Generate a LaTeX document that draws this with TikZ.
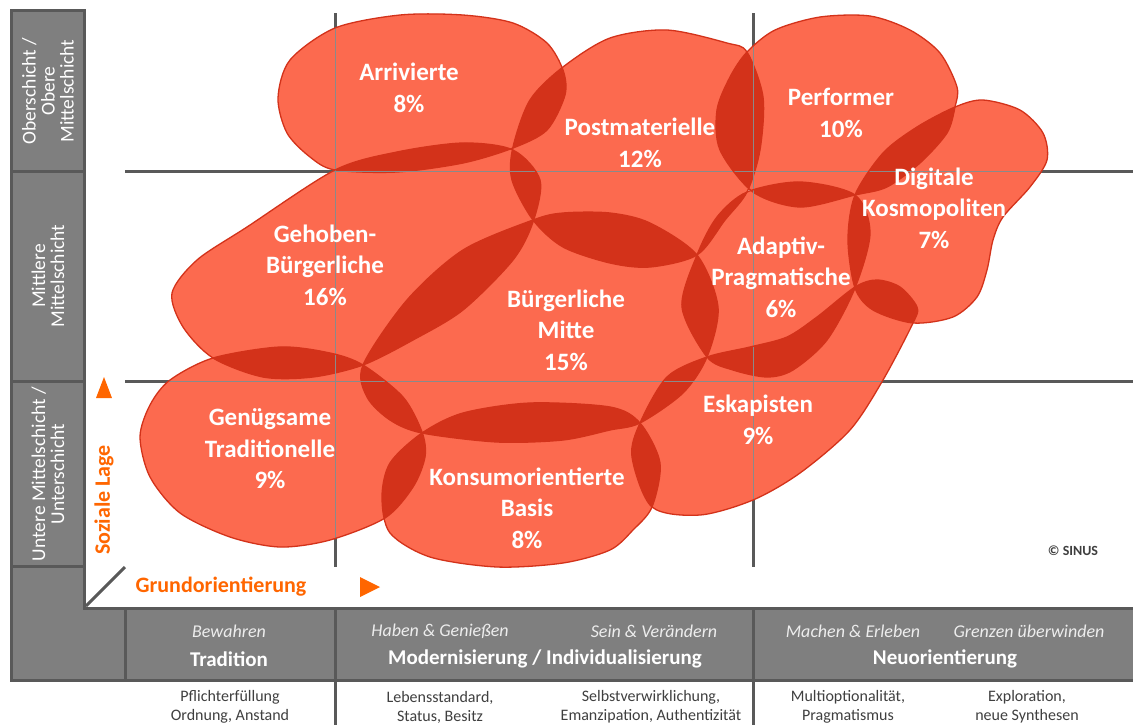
\documentclass[tikz,border=0pt]{standalone}
\usepackage{fontspec}
\setmainfont{Carlito}
\usepackage{tikz}

\definecolor{milieuRed}{HTML}{FC6A4F}
\definecolor{lensRed}{HTML}{D3321A}
\definecolor{cellGray}{HTML}{7F7F7F}
\definecolor{lineGray}{HTML}{595959}
\definecolor{thinGray}{HTML}{8A8A8A}
\definecolor{axisOrange}{HTML}{FF6600}
\definecolor{noteGray}{HTML}{3F3F3F}

\tikzset{
  cell/.style={fill=cellGray, draw=lineGray, line width=3pt},
  gridline/.style={draw=lineGray, line width=3pt},
  thingrid/.style={draw=thinGray, line width=1pt},
  rim/.style={draw=lensRed, line width=1.3pt},
  milieu/.style={text=white, align=center, font=\fontsize{25}{31.5}\selectfont\bfseries},
  layer/.style={text=white, align=center, rotate=90, font=\fontsize{19.5}{19}\selectfont},
  value/.style={text=white!93!black, font=\fontsize{18}{20}\selectfont\itshape},
  orient/.style={text=white, font=\fontsize{21}{24}\selectfont\bfseries},
  note/.style={text=noteGray, align=center, font=\fontsize{16}{19}\selectfont},
  axis/.style={text=axisOrange, font=\fontsize{22}{24}\selectfont\bfseries},
}

\begin{document}
\begin{tikzpicture}[x=1pt,y=-1pt]
\useasboundingbox (0,0) rectangle (1133,724);
\fill[white] (0,0) rectangle (1133,724);

% milieu outlines
\def\pArr{plot[smooth cycle] coordinates {(278,98) (290,60) (335,28) (400,15) (463,15) (513,23) (547,43) (563,70) (565,95) (547,130) (513,148) (463,163) (397,172) (335,170) (310,157) (287,133)}}
\def\pPost{plot[smooth cycle] coordinates {(513,147) (530,100) (563,67) (610,38) (667,30) (727,43) (747,52) (763,97) (760,150) (747,192) (725,220) (697,255) (650,267) (610,263) (563,247) (533,220) (512,180)}}
\def\pPerf{plot[smooth cycle] coordinates {(730,77) (747,52) (775,30) (820,17) (870,16) (910,30) (940,53) (957,87) (955,107) (947,133) (920,163) (887,187) (855,195) (800,207) (753,192) (720,150) (717,110)}}
\def\pDig{plot[smooth cycle] coordinates {(955,107) (983,100) (1020,110) (1043,133) (1047,160) (1030,187) (1003,217) (993,240) (987,270) (977,297) (953,317) (913,323) (873,310) (855,288) (848,240) (855,195) (883,153) (917,127)}}
\def\pGeh{plot[smooth cycle] coordinates {(172,293) (183,327) (213,358) (263,377) (313,377) (363,365) (413,340) (463,310) (513,260) (533,222) (540,180) (513,150) (463,143) (397,152) (335,170) (247,227) (197,260)}}
\def\pBM{plot[smooth cycle] coordinates {(363,365) (407,300) (463,250) (533,220) (563,213) (610,213) (650,223) (697,255) (718,307) (707,357) (683,393) (640,423) (610,430) (563,440) (497,442) (422,433) (390,420) (367,397)}}
\def\pAdapt{plot[smooth cycle] coordinates {(747,192) (800,182) (855,195) (870,233) (855,288) (827,340) (793,370) (767,377) (733,370) (707,357) (682,307) (697,255) (717,217)}}
\def\pGen{plot[smooth cycle] coordinates {(140,437) (150,405) (170,380) (213,358) (280,347) (330,353) (363,365) (403,397) (422,432) (425,457) (413,487) (385,518) (330,540) (280,547) (230,537) (180,513) (150,477)}}
\def\pKons{plot[smooth cycle] coordinates {(422,433) (463,413) (530,403) (610,407) (640,423) (660,463) (652,507) (633,530) (610,550) (563,563) (497,567) (430,557) (390,533) (382,497) (390,463)}}
\def\pEsk{plot[smooth cycle] coordinates {(640,423) (667,377) (707,357) (750,347) (787,337) (817,317) (855,287) (877,280) (900,287) (917,307) (913,323) (883,380) (850,430) (800,473) (753,500) (700,515) (652,507) (632,457)}}

% grid under the milieus
\draw[gridline] (125,171) -- (1133,171);
\draw[gridline] (125,381) -- (1133,381);
\draw[gridline] (335,13) -- (335,567);
\draw[gridline] (753,13) -- (753,567);

\foreach \b in {Arr,Post,Perf,Dig,Geh,BM,Adapt,Gen,Kons,Esk}{
  \begin{scope}[fill=milieuRed]
    \expandafter\fill\csname p\b\endcsname;
  \end{scope}
}
\foreach \a/\b in {Arr/Post,Arr/Geh,Geh/Post,Geh/BM,Geh/Gen,Post/BM,Post/Perf,Post/Adapt,Perf/Adapt,Perf/Dig,Dig/Adapt,Dig/Esk,Adapt/BM,Adapt/Esk,BM/Esk,BM/Kons,BM/Gen,Gen/Kons,Kons/Esk}{
  \begin{scope}[fill=lensRed]
    \expandafter\clip\csname p\a\endcsname;
    \expandafter\fill\csname p\b\endcsname;
  \end{scope}
}
\foreach \b in {Arr,Post,Perf,Dig,Geh,BM,Adapt,Gen,Kons,Esk}{
  \begin{scope}
    \expandafter\clip\csname p\b\endcsname;
    \draw[thingrid] (125,171) -- (1133,171) (125,381) -- (1133,381);
    \draw[thingrid] (335,13) -- (335,567) (753,13) -- (753,567);
  \end{scope}
  \begin{scope}[rim]
    \expandafter\draw\csname p\b\endcsname;
  \end{scope}
}

\node[milieu] (arr) at (409,88) {Arrivierte\\8\%};
\node[milieu] (post) at (640,143) {Postmaterielle\\12\%};
\node[milieu] (perf) at (841,113) {Performer\\10\%};
\node[milieu] (dig) at (934,208) {Digitale\\Kosmopoliten\\7\%};
\node[milieu] (geh) at (325,265) {Gehoben-\\Bürgerliche\\16\%};
\node[milieu] (bm) at (566,330) {Bürgerliche\\Mitte\\15\%};
\node[milieu] (adapt) at (781,277) {Adaptiv-\\Pragmatische\\6\%};
\node[milieu] (gen) at (270,449) {Genügsame\\Traditionelle\\9\%};
\node[milieu] (kons) at (527,508) {Konsumorientierte\\Basis\\8\%};
\node[milieu] (esk) at (758,420) {Eskapisten\\9\%};

% left column
\draw[cell] (11,10) rectangle (84,171);
\draw[cell] (11,171) rectangle (84,381);
\draw[cell] (11,381) rectangle (84,566);
\draw[cell] (11,566) -- (84,566) -- (84,608) -- (125,608) -- (125,680) -- (11,680) -- cycle;
\node[layer] (ober) at (48,91) {Oberschicht /\\Obere\\Mittelschicht};
\node[layer] (mitte) at (48,276) {Mittlere\\Mittelschicht};
\node[layer] (unter) at (48,474) {Untere Mittelschicht /\\Unterschicht};

% bottom band
\draw[cell] (125,608) rectangle (335,680);
\draw[cell] (335,608) rectangle (753,680);
\draw[cell] (753,608) rectangle (1136,680);
\draw[gridline] (335,680) -- (335,726);
\draw[gridline] (753,680) -- (753,726);
\draw[gridline] (86,606) -- (125,567);

\node[value] (bew) at (229,631) {Bewahren};
\node[orient] (trad) at (229,659) {Tradition};
\node[value] (haben) at (440,631) {Haben \& Genießen};
\node[value] (sein) at (654,631) {Sein \& Verändern};
\node[orient] (mod) at (545,659) {Modernisierung / Individualisierung};
\node[value] (machen) at (853,631) {Machen \& Erleben};
\node[value] (grenzen) at (1029,631) {Grenzen überwinden};
\node[orient] (neu) at (945,659) {Neuorientierung};

\node[note] (pflicht) at (230,707) {Pflichterfüllung\\Ordnung, Anstand};
\node[note] (leben) at (440,707) {Lebensstandard,\\Status, Besitz};
\node[note] (selbst) at (651,707) {Selbstverwirklichung,\\Emanzipation, Authentizität};
\node[note] (multi) at (848,707) {Multioptionalität,\\Pragmatismus};
\node[note] (explo) at (1027,707) {Exploration,\\neue Synthesen};

% axes
\fill[axisOrange] (96,398) -- (112,398) -- (104,377) -- cycle;
\node[axis, rotate=90] (lage) at (104,500) {Soziale Lage};
\node[axis] (grund) at (221,587) {Grundorientierung};
\fill[axisOrange] (360,577) -- (380,587) -- (360,597) -- cycle;
\node[font=\fontsize{14}{16}\selectfont\bfseries, text=noteGray] (sinus) at (1073,551) {© SINUS};
\end{tikzpicture}
\end{document}
